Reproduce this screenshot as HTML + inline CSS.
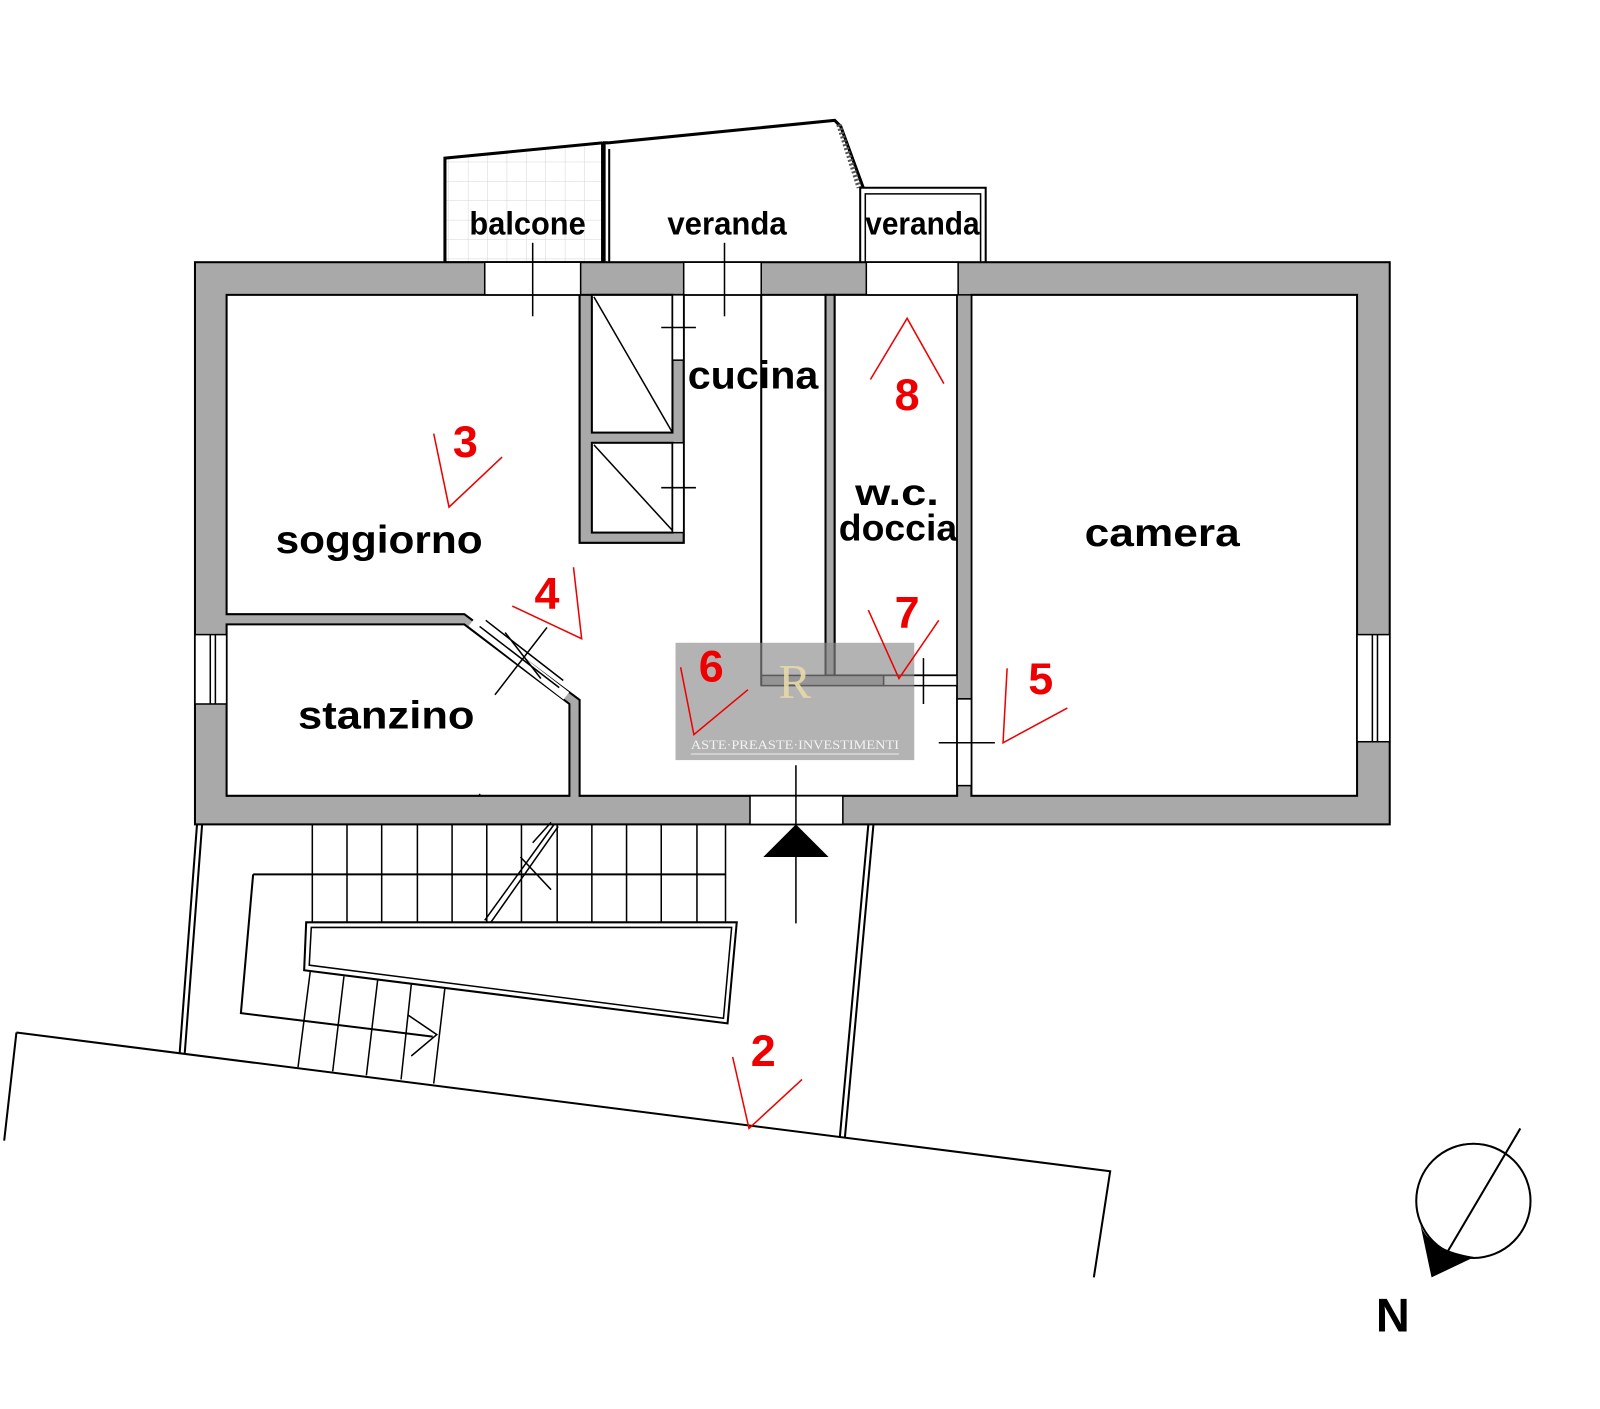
<!DOCTYPE html>
<html><head><meta charset="utf-8"><style>html,body{margin:0;padding:0;background:#fff}svg{display:block}</style></head>
<body>
<svg width="1600" height="1409" viewBox="0 0 1568 1381" xmlns="http://www.w3.org/2000/svg">
<defs>
<pattern id="grid" width="19" height="19" patternUnits="userSpaceOnUse" x="440" y="140">
<path d="M19 0V19M0 19H19" stroke="#d4d4d4" stroke-width="1" fill="none"/>
</pattern>
</defs>
<rect width="1568" height="1381" fill="#fff"/>
<g fill="none" stroke="#000" stroke-width="2">
<!-- balcone -->
<path d="M436 257 L436 155 L590 140 L590 257 Z" fill="url(#grid)"/>
<path d="M436 257 L436 155 L590 140" stroke-width="3"/>
<!-- veranda -->
<path d="M592 257 L592 140 L596 140 L818 118 L824 124 L846 184" stroke-width="3"/>
<line x1="597" y1="146" x2="597" y2="257"/>
<path d="M822 122 L842 184" stroke="#555" stroke-width="5" stroke-dasharray="2 2"/>
<!-- small veranda -->
<path d="M843 257 L843 184 L966 184 L966 257"/>
<path d="M848 257 L848 190 L961 190 L961 257" stroke-width="1.5"/>
</g>
<!-- outer walls -->
<rect x="191" y="257" width="1171" height="551" fill="#a9a9a9" stroke="#000" stroke-width="2"/>
<!-- main white area -->
<path d="M222 289 L568 289 L568 532 L670 532 L670 289 L938 289 L938 780 L568 780 L568 686 L455 602 L222 602 Z" fill="#fff" stroke="#000" stroke-width="2"/>
<!-- stanzino -->
<path d="M222 612 L455 612 L558 690 L558 780 L222 780 Z" fill="#fff" stroke="#000" stroke-width="2"/>
<!-- camera -->
<rect x="952" y="289" width="378" height="491" fill="#fff" stroke="#000" stroke-width="2"/>
<!-- cabinet block -->
<rect x="568" y="289" width="102" height="243" fill="#a9a9a9" stroke="#000" stroke-width="2"/>
<rect x="580" y="289" width="79" height="135" fill="#fff" stroke="#000" stroke-width="2"/>
<rect x="580" y="434" width="79" height="88" fill="#fff" stroke="#000" stroke-width="2"/>
<rect x="659" y="289" width="11" height="64" fill="#fff" stroke="#000" stroke-width="1.5"/>
<rect x="659" y="434" width="11" height="88" fill="#fff" stroke="#000" stroke-width="1.5"/>
<g stroke="#000" stroke-width="1.5">
<line x1="582" y1="291" x2="659" y2="424"/>
<line x1="582" y1="436" x2="659" y2="520"/>
<line x1="648" y1="321" x2="682" y2="321"/>
<line x1="648" y1="478" x2="682" y2="478"/>
</g>
<!-- kitchen column + wc -->
<rect x="809" y="289" width="9" height="373" fill="#a9a9a9" stroke="#000" stroke-width="2"/>
<rect x="818" y="289" width="120" height="373" fill="#fff" stroke="#000" stroke-width="2"/>
<rect x="746" y="662" width="120" height="10" fill="#a9a9a9" stroke="#000" stroke-width="1.5"/>
<rect x="866" y="662" width="72" height="10" fill="#fff" stroke="#000" stroke-width="1.5"/>
<line x1="746" y1="289" x2="746" y2="672" stroke="#000" stroke-width="2"/>
<rect x="938" y="289" width="14" height="396" fill="#a9a9a9" stroke="#000" stroke-width="1.5"/>
<rect x="938" y="685" width="14" height="85" fill="#fff" stroke="#000" stroke-width="1.5"/>
<g stroke="#000" stroke-width="1.5">
<line x1="905" y1="645" x2="905" y2="690"/>
<line x1="920" y1="728" x2="975" y2="728"/>
</g>
<!-- top wall openings -->
<g fill="#fff" stroke="#000" stroke-width="1.5">
<rect x="475" y="257" width="94" height="32"/>
<rect x="670" y="257" width="76" height="32"/>
<rect x="849" y="257" width="90" height="32"/>
<rect x="735" y="780" width="91" height="28"/>
<rect x="191" y="622" width="31" height="68"/>
<rect x="1330" y="622" width="32" height="105"/>
</g>
<g stroke="#000" stroke-width="1.5">
<line x1="206" y1="622" x2="206" y2="690"/><line x1="211" y1="622" x2="211" y2="690"/>
<line x1="1345" y1="622" x2="1345" y2="727"/><line x1="1350" y1="622" x2="1350" y2="727"/>
<line x1="522" y1="238" x2="522" y2="310"/>
<line x1="710" y1="238" x2="710" y2="310"/>
<line x1="780" y1="750" x2="780" y2="905"/>
<line x1="470" y1="778" x2="470" y2="780"/>
</g>
<!-- stanzino door -->
<path d="M462 610 L555 682" stroke="#fff" stroke-width="9"/>
<path d="M470 614 L548 674 M476 608 L552 667" stroke="#000" stroke-width="1.5"/>
<g stroke="#000" stroke-width="1.5">
<line x1="485" y1="681" x2="536" y2="615"/>
<line x1="495" y1="620" x2="530" y2="665"/>
</g>
<!-- entrance arrow -->
<polygon points="780,808 748,840 812,840" fill="#000"/>
<!-- stairs area -->
<g fill="none" stroke="#000" stroke-width="2">
<path d="M193 808 L176 1032 M198 808 L181 1032"/>
<path d="M856 808 L828 1115 M851 808 L823 1115"/>
<path d="M16 1012 L1088 1148 L1072 1252 M16 1012 L4 1118"/>
<path d="M248 857 L711 857 M248 857 L236 993 L424 1016"/>
<path d="M300 904 L722 904 L713 1003 L298 951 Z"/>
<path d="M305 909 L717 909 L709 998 L303 946 Z" stroke-width="1.5"/>
<g stroke-width="1.5">
<path d="M306 808V904M340 808V904M374 808V904M409 808V904M443 808V904M477 808V904M511 808V904M546 808V904M580 808V904M614 808V904M648 808V904M683 808V904M711 808V904"/>
<path d="M304 952 L292 1046 M337 957 L326 1050 M370 961 L359 1054 M403 965 L393 1058 M436 968 L425 1062"/>
<path d="M475 902 L543 808 M481 904 L547 810"/>
<path d="M510 840 L540 872 M522 826 L540 806"/>
<path d="M400 995 L428 1014 L403 1035"/>
</g>
</g>
<!-- watermark -->
<rect x="662" y="630" width="234" height="115" fill="#8a8a8a" opacity="0.65"/>
<text x="779" y="684" font-family="Liberation Serif, serif" font-size="48" fill="#e8d9a8" text-anchor="middle" opacity="0.9">R</text>
<text x="779" y="734" font-family="Liberation Serif, serif" font-size="12" fill="#f2f2f2" text-anchor="middle" textLength="204" lengthAdjust="spacingAndGlyphs">ASTE·PREASTE·INVESTIMENTI</text>
<line x1="677" y1="739" x2="881" y2="739" stroke="#eee" stroke-width="1"/>
<!-- labels -->
<g font-family="Liberation Sans, sans-serif" font-weight="bold" fill="#000">
<text x="270" y="542" font-size="38" textLength="203" lengthAdjust="spacingAndGlyphs">soggiorno</text>
<text x="292" y="714" font-size="38" textLength="173" lengthAdjust="spacingAndGlyphs">stanzino</text>
<text x="1063" y="535" font-size="38" textLength="152" lengthAdjust="spacingAndGlyphs">camera</text>
<text x="674" y="381" font-size="38" textLength="128" lengthAdjust="spacingAndGlyphs">cucina</text>
<text x="838" y="495" font-size="36" textLength="82" lengthAdjust="spacingAndGlyphs">w.c.</text>
<text x="822" y="530" font-size="36" textLength="116" lengthAdjust="spacingAndGlyphs">doccia</text>
<text x="460" y="230" font-size="32" textLength="114" lengthAdjust="spacingAndGlyphs">balcone</text>
<text x="654" y="230" font-size="32" textLength="117" lengthAdjust="spacingAndGlyphs">veranda</text>
<text x="848" y="230" font-size="32" textLength="112" lengthAdjust="spacingAndGlyphs">veranda</text>
<text x="1365" y="1305" font-size="46" text-anchor="middle">N</text>
</g>
<!-- red markers -->
<g fill="none" stroke="#e00" stroke-width="1.5">
<path d="M425 425 L440 497 L492 448"/>
<path d="M502 594 L570 626 L562 556"/>
<path d="M853 372 L889 312 L925 376"/>
<path d="M851 598 L881 665 L920 608"/>
<path d="M987 655 L983 728 L1046 694"/>
<path d="M667 654 L680 720 L733 676"/>
<path d="M718 1036 L734 1106 L786 1058"/>
</g>
<g font-family="Liberation Sans, sans-serif" font-weight="bold" fill="#e00" font-size="44" text-anchor="middle">
<text x="456" y="448">3</text>
<text x="536" y="597">4</text>
<text x="889" y="402">8</text>
<text x="889" y="615">7</text>
<text x="1020" y="680">5</text>
<text x="697" y="668">6</text>
<text x="748" y="1045">2</text>
</g>
<!-- compass -->
<circle cx="1444" cy="1177" r="56" fill="none" stroke="#000" stroke-width="2"/>
<line x1="1490" y1="1106" x2="1418" y2="1228" stroke="#000" stroke-width="2"/>
<path d="M1392 1200 Q1400 1225 1445 1232 L1403 1252 Z" fill="#000"/>
</svg>
</body></html>
